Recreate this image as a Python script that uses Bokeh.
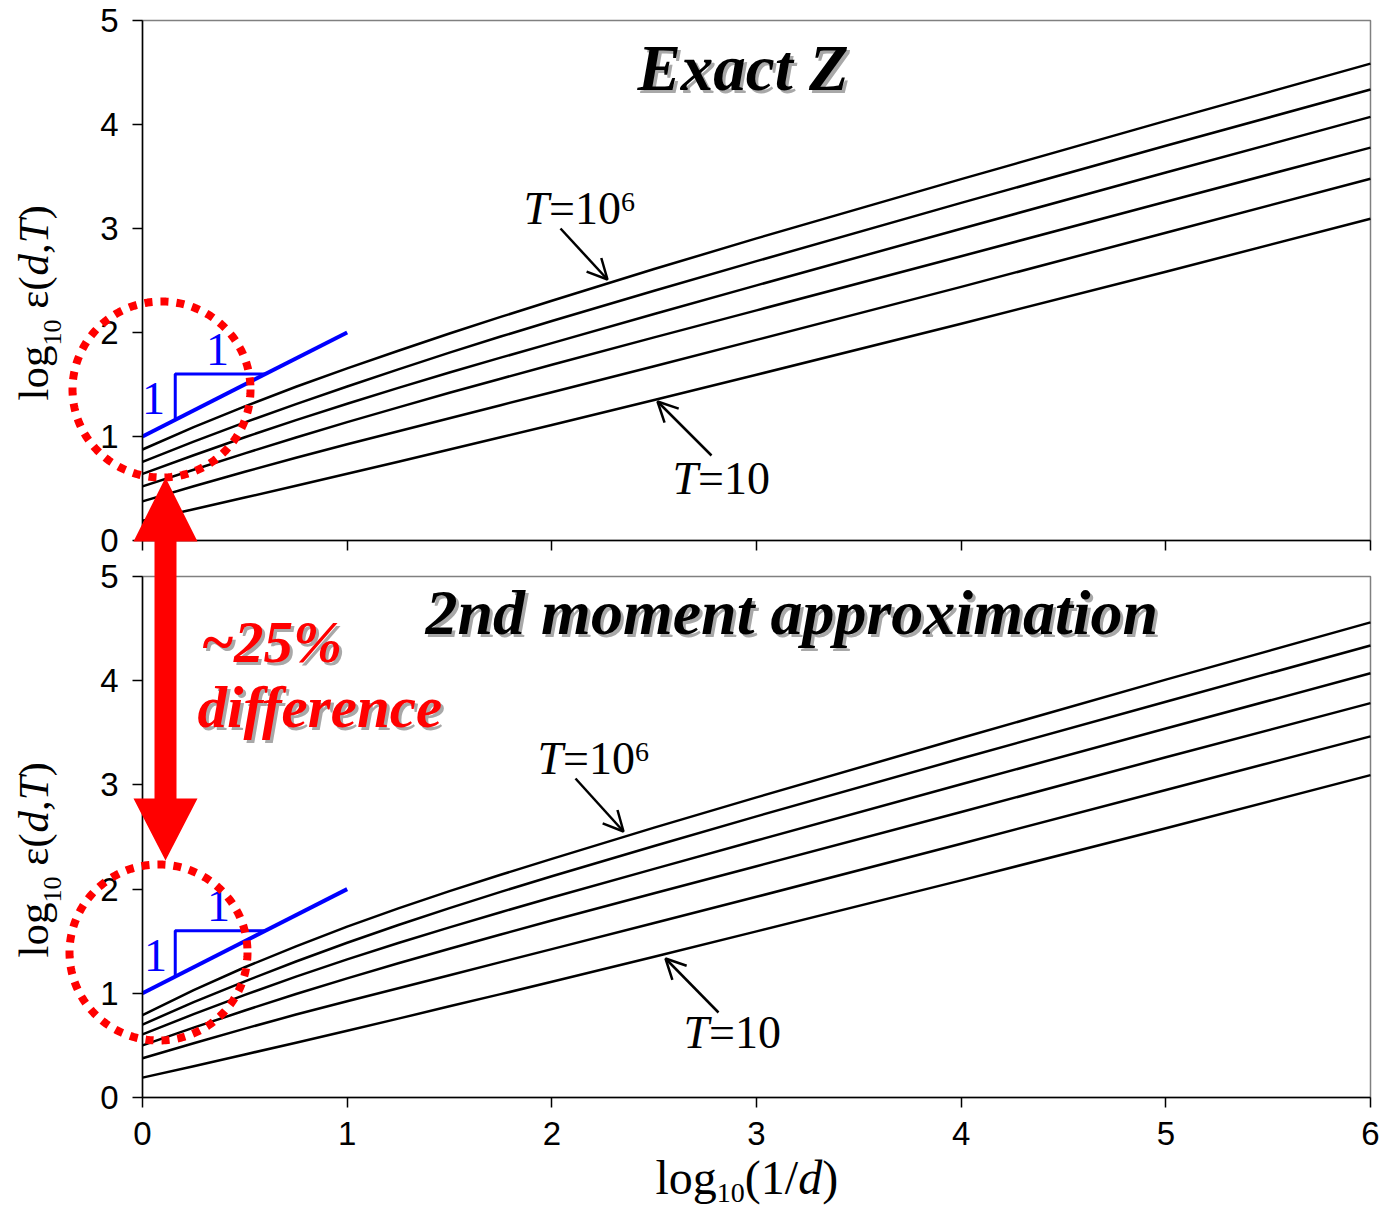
import numpy as np
from bokeh.plotting import figure
from bokeh.models import (Range1d, FixedTicker, Label, Arrow, OpenHead,
                          PolyAnnotation, BoxAnnotation, LinearAxis)
from bokeh.embed import file_html
from bokeh.resources import INLINE

# ---------------------------------------------------------------- data
# abscissa: log10(1/d)
log_inv_d = [0, 0.25, 0.5, 0.75, 1, 1.25, 1.5, 1.75, 2, 2.5, 3, 4, 5, 6]

# log10 eps(d,T) with the exact partition function Z  (T = 1e6 ... 10)
exact_T1e6 = [0.875, 1.09, 1.29, 1.478, 1.655, 1.825, 1.99, 2.15, 2.305, 2.61, 2.905, 3.475, 4.035, 4.585]
exact_T1e5 = [0.756, 0.951, 1.136, 1.311, 1.481, 1.646, 1.806, 1.961, 2.111, 2.401, 2.686, 3.246, 3.796, 4.336]
exact_T1e4 = [0.64, 0.82, 0.993, 1.158, 1.315, 1.468, 1.615, 1.758, 1.898, 2.178, 2.453, 2.998, 3.538, 4.073]
exact_T1e3 = [0.52, 0.68, 0.838, 0.99, 1.138, 1.28, 1.42, 1.556, 1.69, 1.953, 2.213, 2.733, 3.258, 3.778]
exact_T1e2 = [0.376, 0.521, 0.661, 0.796, 0.926, 1.051, 1.176, 1.301, 1.426, 1.676, 1.929, 2.439, 2.959, 3.479]
exact_T1e1 = [0.19, 0.30, 0.413, 0.526, 0.641, 0.757, 0.875, 0.992, 1.111, 1.351, 1.594, 2.084, 2.584, 3.094]

# log10 eps(d,T) with the 2nd moment approximation
approx_T1e6 = [0.79, 1.03, 1.25, 1.45, 1.64, 1.815, 1.98, 2.138, 2.29, 2.59, 2.88, 3.45, 4.01, 4.56]
approx_T1e5 = [0.70, 0.915, 1.115, 1.305, 1.485, 1.655, 1.818, 1.973, 2.123, 2.413, 2.698, 3.253, 3.798, 4.338]
approx_T1e4 = [0.605, 0.80, 0.985, 1.16, 1.325, 1.483, 1.633, 1.778, 1.919, 2.194, 2.466, 3.006, 3.541, 4.071]
approx_T1e3 = [0.50, 0.67, 0.835, 0.993, 1.143, 1.288, 1.428, 1.564, 1.698, 1.96, 2.22, 2.74, 3.265, 3.785]
approx_T1e2 = [0.376, 0.521, 0.661, 0.796, 0.924, 1.049, 1.174, 1.299, 1.424, 1.674, 1.926, 2.436, 2.951, 3.466]
approx_T1e1 = [0.191, 0.30, 0.413, 0.526, 0.641, 0.757, 0.875, 0.992, 1.111, 1.351, 1.594, 2.084, 2.584, 3.094]

# slope-one guide line and its triangle
slope_x = [0, 1]
slope_y = [1, 2]
tri_x = [0.16, 0.16, 0.6]
tri_y = [1.16, 1.6, 1.6]

x_ticks = [0, 1, 2, 3, 4, 5, 6]
y_ticks = [0, 1, 2, 3, 4, 5]

# ---------------------------------------------------------------- geometry
PAGE_W, PAGE_H = 1382, 1207
FRAME_LEFT, FRAME_RIGHT = 142, 1370
PX_PER_X = (FRAME_RIGHT - FRAME_LEFT) / 6.0

# vertical placement (page pixels) of each panel's 0..5 band
PANELS = {
    "default": dict(y0=540, y5=20),     # exact Z
    "bottom": dict(y0=1097, y5=576),    # 2nd moment approximation
}

SERIF = "Liberation Serif"
SANS = "Liberation Sans"
RED = "#ff0000"
BLUE = "#0000ff"
SHADOW = "#a8a8a8"
BASELINE_FIX = 0.37   # em: lifts the alphabetic anchor onto the baseline

# approximate advance widths (em) for laying out mixed-style runs
EM = {"l": 0.278, "o": 0.5, "g": 0.5, "(": 0.333, ")": 0.333, "/": 0.278,
      "d": 0.5, ",": 0.25, "T": 0.556, "ε": 0.44, " ": 0.25, "=": 0.564}


def px_per_y(panel):
    g = PANELS[panel]
    return (g["y0"] - g["y5"]) / 5.0


def to_data(panel, px, py):
    g = PANELS[panel]
    return (px - FRAME_LEFT) / PX_PER_X, (g["y0"] - py) / px_per_y(panel)


def run_width(text, size):
    return sum(EM.get(c, 0.5) for c in text) * size


def add_text(p, panel, px, py, text, size, style="normal", color="black",
             font=SERIF, align="left", vertical=False):
    if vertical:
        px -= BASELINE_FIX * size
    else:
        py -= BASELINE_FIX * size
    x, y = to_data(panel, px, py)
    p.add_layout(Label(x=x, y=y, y_range_name=panel, text=text,
                       angle=np.pi / 2 if vertical else 0.0, text_font=font,
                       text_font_size=f"{size}px", text_font_style=style,
                       text_color=color, text_align=align,
                       text_baseline="alphabetic"))


def add_run(p, panel, px, py, pieces, vertical=False):
    """Lay out a sequence of (text, size, style, baseline_shift) pieces."""
    pos = 0.0
    for text, size, style, shift in pieces:
        lead = len(text) - len(text.lstrip(" "))
        pos += lead * EM[" "] * size
        text = text.lstrip(" ")
        if vertical:
            add_text(p, panel, px + shift, py - pos, text, size, style, vertical=True)
        else:
            add_text(p, panel, px + pos, py + shift, text, size, style)
        pos += run_width(text, size)


def add_shadow_text(p, panel, px, py, text, size, color):
    add_text(p, panel, px + 3, py + 3, text, size, "bold italic", SHADOW)
    add_text(p, panel, px, py, text, size, "bold italic", color)


def add_pointer(p, panel, start, end):
    x0, y0 = to_data(panel, *start)
    x1, y1 = to_data(panel, *end)
    p.add_layout(Arrow(end=OpenHead(size=20, line_width=2.5, line_color="black"),
                       x_start=x0, y_start=y0, x_end=x1, y_end=y1,
                       y_range_name=panel, line_width=2.5, line_color="black"))


def add_polygon(p, pts, **kw):
    # polygon vertices are given in page pixels and mapped on the main y range
    xs, ys = zip(*[to_data("default", a, b) for a, b in pts])
    p.add_layout(PolyAnnotation(xs=list(xs), ys=list(ys), **kw))


def add_dotted_circle(p, cx, cy, rx, ry):
    t = np.linspace(0, 2 * np.pi, 241)
    pts = list(zip(cx + rx * np.cos(t), cy + ry * np.sin(t)))
    add_polygon(p, pts, fill_color=None, fill_alpha=0,
                line_color=RED, line_alpha=1, line_width=8, line_dash="8 8")


def style_axis(ax, show_labels):
    ax.axis_line_color = "black"
    ax.axis_line_width = 1.5
    ax.major_tick_line_color = "black"
    ax.major_tick_line_width = 1.5
    ax.major_tick_in = 0
    ax.major_tick_out = 10
    ax.minor_tick_line_color = None
    ax.major_label_text_font = SANS
    ax.major_label_text_font_size = "33px"
    ax.major_label_standoff = 14
    ax.major_label_text_color = "black" if show_labels else None


def add_panel(p, panel, series, show_x_labels):
    # panel border (top and right edges show in grey)
    p.add_layout(BoxAnnotation(left=0, right=6, bottom=0, top=5, y_range_name=panel,
                               fill_color=None, fill_alpha=0, line_color="#808080",
                               line_alpha=1, line_width=1.5, level="underlay"))
    yax = LinearAxis(y_range_name=panel, fixed_location=0, bounds=(0, 5),
                     ticker=FixedTicker(ticks=y_ticks))
    xax = LinearAxis(y_range_name=panel, fixed_location=0, bounds=(0, 6),
                     ticker=FixedTicker(ticks=x_ticks))
    style_axis(yax, True)
    style_axis(xax, show_x_labels)
    p.add_layout(yax, "left")
    p.add_layout(xax, "below")

    for ys in series:
        p.line(log_inv_d, ys, y_range_name=panel, line_color="black",
               line_width=2.5, line_join="round")
    p.line(slope_x, slope_y, y_range_name=panel, line_color=BLUE, line_width=4)
    p.line(tri_x, tri_y, y_range_name=panel, line_color=BLUE, line_width=3)

    # y-axis title: log10 eps(d,T)
    ylab_start = PANELS[panel]["y0"] - 140
    add_run(p, panel, 49, ylab_start, [
        ("log", 43, "normal", 0), ("10", 26, "normal", 13),
        (" ε(", 43, "normal", 0), ("d", 43, "italic", 0),
        (",", 43, "normal", 0), ("T", 43, "italic", 0), (")", 43, "normal", 0),
    ], vertical=True)


# one canvas holds both panels so the overlays can span them
top_span = PANELS["default"]
bot_span = PANELS["bottom"]
p = figure(width=PAGE_W, height=PAGE_H,
           x_range=Range1d(-FRAME_LEFT / PX_PER_X, (PAGE_W - FRAME_LEFT) / PX_PER_X),
           y_range=Range1d((top_span["y0"] - PAGE_H) / px_per_y("default"),
                           top_span["y0"] / px_per_y("default")),
           x_axis_location=None, y_axis_location=None,
           output_backend="svg", toolbar_location=None, min_border=0,
           background_fill_color="white", border_fill_color="white")
p.extra_y_ranges = {"bottom": Range1d((bot_span["y0"] - PAGE_H) / px_per_y("bottom"),
                                      bot_span["y0"] / px_per_y("bottom"))}
p.outline_line_color = None
p.grid.visible = False

# ---------------------------------------------------------------- top panel
add_panel(p, "default", [exact_T1e6, exact_T1e5, exact_T1e4,
                         exact_T1e3, exact_T1e2, exact_T1e1], False)
add_shadow_text(p, "default", 637, 92, "Exact Z", 65, "black")
add_run(p, "default", 523, 225, [("T", 46, "italic", 0), ("=10", 46, "normal", 0),
                                 ("6", 28, "normal", -13)])
add_pointer(p, "default", (560, 228), (607, 279))
add_run(p, "default", 672, 495, [("T", 46, "italic", 0), ("=10", 46, "normal", 0)])
add_pointer(p, "default", (711, 455), (657, 401))
add_text(p, "default", 153, 415, "1", 46, color=BLUE, align="center")
add_text(p, "default", 217, 366, "1", 46, color=BLUE, align="center")

# ---------------------------------------------------------------- bottom panel
add_panel(p, "bottom", [approx_T1e6, approx_T1e5, approx_T1e4,
                        approx_T1e3, approx_T1e2, approx_T1e1], True)
add_shadow_text(p, "bottom", 425, 636, "2nd moment approximation", 64, "black")
add_shadow_text(p, "bottom", 200, 663, "~25%", 59, RED)
add_shadow_text(p, "bottom", 197, 728, "difference", 59, RED)
add_run(p, "bottom", 537, 775, [("T", 46, "italic", 0), ("=10", 46, "normal", 0),
                                ("6", 28, "normal", -13)])
add_pointer(p, "bottom", (575, 778), (623, 831))
add_run(p, "bottom", 683, 1049, [("T", 46, "italic", 0), ("=10", 46, "normal", 0)])
add_pointer(p, "bottom", (718, 1012), (665, 958))
add_text(p, "bottom", 155, 972, "1", 46, color=BLUE, align="center")
add_text(p, "bottom", 218, 922, "1", 46, color=BLUE, align="center")

# dotted circles around the small-d region of each panel
add_dotted_circle(p, 161, 389, 89, 88)
add_dotted_circle(p, 158, 952, 89, 88)

# double-headed arrow joining the two circled regions
add_polygon(p, [(165, 477), (197, 541), (176, 541), (176, 798),
                (197, 798), (165, 860), (133, 798), (154, 798),
                (154, 541), (133, 541)],
            fill_color=RED, fill_alpha=1, line_color=None)

# x-axis title: log10(1/d)
add_run(p, "bottom", 655, 1195, [
    ("log", 48, "normal", 0), ("10", 28, "normal", 8),
    ("(1/", 48, "normal", 0), ("d", 48, "italic", 0), (")", 48, "normal", 0),
])

open("out.html", "w").write(file_html(p, INLINE, title="log10 eps(d,T)"))
